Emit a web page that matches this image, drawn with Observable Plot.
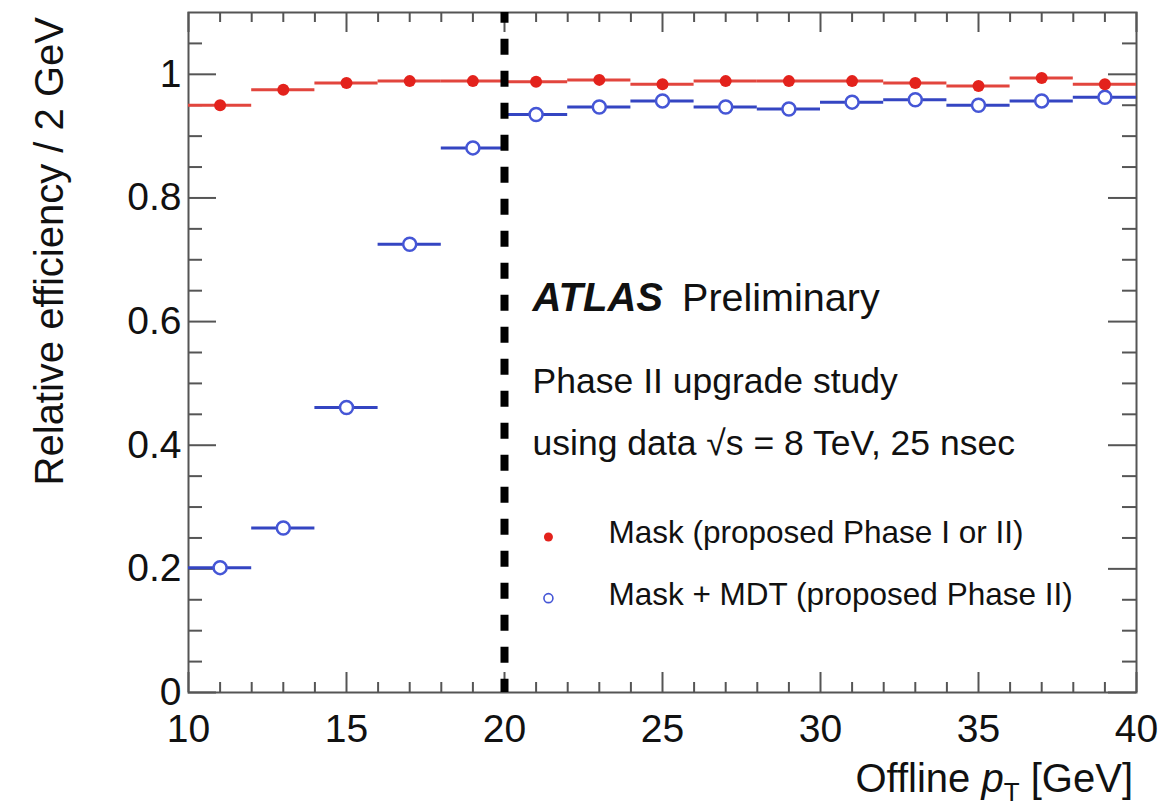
<!DOCTYPE html>
<html>
<head>
<meta charset="utf-8">
<script src="https://cdn.jsdelivr.net/npm/d3@7"></script>
<script src="https://cdn.jsdelivr.net/npm/@observablehq/plot@0.6"></script>
<style>
  html, body { margin: 0; padding: 0; background: #ffffff; }
  #chart { position: relative; width: 1176px; height: 808px; }
</style>
</head>
<body>
<div id="chart"></div>
<script>
// ---------------- data ----------------
const ptBinCentres = [11, 13, 15, 17, 19, 21, 23, 25, 27, 29, 31, 33, 35, 37, 39];
const binHalfWidth = 1;
const maskEfficiency = [0.950, 0.975, 0.986, 0.989, 0.989, 0.988, 0.991, 0.984, 0.989, 0.989, 0.989, 0.986, 0.981, 0.994, 0.984];
const maskMdtEfficiency = [0.202, 0.266, 0.461, 0.725, 0.881, 0.935, 0.947, 0.957, 0.947, 0.944, 0.955, 0.959, 0.950, 0.957, 0.963];
const thresholdPt = [20];

const xMajorTicks = [10, 15, 20, 25, 30, 35, 40];
const xMinorTicks = [11, 12, 13, 14, 16, 17, 18, 19, 21, 22, 23, 24, 26, 27, 28, 29, 31, 32, 33, 34, 36, 37, 38, 39];
const yMajorTicks = [0, 0.2, 0.4, 0.6, 0.8, 1];
const yMinorTicks = [0.05, 0.1, 0.15, 0.25, 0.3, 0.35, 0.45, 0.5, 0.55, 0.65, 0.7, 0.75, 0.85, 0.9, 0.95, 1.05];

const seriesLabels = ["Mask (proposed Phase I or II)", "Mask + MDT (proposed Phase II)"];

// ---------------- table built from arrays ----------------
const maskRows = ptBinCentres.map((pt, i) => ({pt, eff: maskEfficiency[i]}));
const mdtRows = ptBinCentres.map((pt, i) => ({pt, eff: maskMdtEfficiency[i]}));

// ---------------- layout / style ----------------
const W = 1176, H = 808;
const mL = 188, mR = 40, mT = 12, mB = 116;
const plotW = W - mL - mR, plotH = H - mT - mB;
const axisColor = "#555555";
const font = "'Liberation Sans', Arial, Helvetica, sans-serif";
const red = "#e3221c", redLine = "#e2453d";
const blueLine = "#3445c2", blueMarker = "#4556d6";

const chart = Plot.plot({
  width: W, height: H,
  marginLeft: mL, marginRight: mR, marginTop: mT, marginBottom: mB,
  style: {fontFamily: font, background: "#ffffff", color: "#111111"},
  x: {domain: [10, 40]},
  y: {domain: [0, 1.1]},
  marks: [
    // ticks (inward, on all four sides)
    Plot.tickX(xMajorTicks, {x: d => d, insetTop: plotH - 20, stroke: axisColor, strokeWidth: 2}),
    Plot.tickX(xMinorTicks, {x: d => d, insetTop: plotH - 10, stroke: axisColor, strokeWidth: 2}),
    Plot.tickX(xMajorTicks, {x: d => d, insetBottom: plotH - 20, stroke: axisColor, strokeWidth: 2}),
    Plot.tickX(xMinorTicks, {x: d => d, insetBottom: plotH - 10, stroke: axisColor, strokeWidth: 2}),
    Plot.tickY(yMajorTicks, {y: d => d, insetRight: plotW - 28, stroke: axisColor, strokeWidth: 2}),
    Plot.tickY(yMinorTicks, {y: d => d, insetRight: plotW - 14, stroke: axisColor, strokeWidth: 2}),
    Plot.tickY(yMajorTicks, {y: d => d, insetLeft: plotW - 28, stroke: axisColor, strokeWidth: 2}),
    Plot.tickY(yMinorTicks, {y: d => d, insetLeft: plotW - 14, stroke: axisColor, strokeWidth: 2}),
    Plot.frame({stroke: axisColor, strokeWidth: 2}),
    // tick labels
    Plot.axisX(xMajorTicks, {tickSize: 0, tickPadding: 22, fontSize: 39, label: null, fill: "#111111", tickFormat: d => String(d)}),
    Plot.axisY(yMajorTicks, {tickSize: 0, tickPadding: 7, fontSize: 39, label: null, fill: "#111111", tickFormat: d => String(d)}),
    // bin-width bars
    Plot.ruleY(maskRows, {x1: d => d.pt - binHalfWidth, x2: d => d.pt + binHalfWidth, y: "eff", stroke: redLine, strokeWidth: 3}),
    Plot.ruleY(mdtRows, {x1: d => d.pt - binHalfWidth, x2: d => d.pt + binHalfWidth, y: "eff", stroke: blueLine, strokeWidth: 3}),
    // markers
    Plot.dot(mdtRows, {x: "pt", y: "eff", r: 6.5, fill: "#ffffff", stroke: blueMarker, strokeWidth: 2.5}),
    Plot.dot(maskRows, {x: "pt", y: "eff", r: 6, fill: red, stroke: "none"}),
    // threshold line
    Plot.ruleX(thresholdPt, {x: d => d, stroke: "#000000", strokeWidth: 8, strokeDasharray: "16,16", strokeDashoffset: 5.3}),
    // annotations
    Plot.text([{x: 20.89, y: 0.617, t: "ATLAS"}], {x: "x", y: "y", text: "t", textAnchor: "start", lineAnchor: "bottom", fontSize: 40, fontWeight: "bold", fontStyle: "italic", fill: "#111111"}),
    Plot.text([{x: 25.62, y: 0.617, t: "Preliminary"}], {x: "x", y: "y", text: "t", textAnchor: "start", lineAnchor: "bottom", fontSize: 39.5, fill: "#111111"}),
    Plot.text([{x: 20.89, y: 0.484, t: "Phase II upgrade study"}], {x: "x", y: "y", text: "t", textAnchor: "start", lineAnchor: "bottom", fontSize: 35.5, fill: "#111111"}),
    Plot.text([{x: 20.89, y: 0.385, t: "using data \u221As = 8 TeV, 25 nsec"}], {x: "x", y: "y", text: "t", textAnchor: "start", lineAnchor: "bottom", fontSize: 35.5, fill: "#111111"}),
    // legend
    Plot.dot([{x: 21.39, y: 0.2516}], {x: "x", y: "y", r: 4.5, fill: red}),
    Plot.dot([{x: 21.39, y: 0.1526}], {x: "x", y: "y", r: 4.5, fill: "#ffffff", stroke: blueMarker, strokeWidth: 1.6}),
    Plot.text([{x: 23.29, y: 0.2419, t: seriesLabels[0]}], {x: "x", y: "y", text: "t", textAnchor: "start", lineAnchor: "bottom", fontSize: 31.5, fill: "#111111"}),
    Plot.text([{x: 23.29, y: 0.1412, t: seriesLabels[1]}], {x: "x", y: "y", text: "t", textAnchor: "start", lineAnchor: "bottom", fontSize: 31.5, fill: "#111111"})
  ]
});

document.getElementById("chart").appendChild(chart);

// axis titles (need mixed styles)
const svg = d3.select(chart);
svg.append("text")
  .attr("transform", `translate(63,${mT + 5}) rotate(-90)`)
  .attr("text-anchor", "end")
  .attr("fill", "#111111")
  .style("font-family", font)
  .style("font-size", "40px")
  .text("Relative efficiency / 2 GeV");

const xt = svg.append("text")
  .attr("x", W - mR - 3)
  .attr("y", 792)
  .attr("text-anchor", "end")
  .attr("fill", "#111111")
  .style("font-family", font)
  .style("font-size", "40px");
xt.append("tspan").text("Offline ");
xt.append("tspan").attr("font-style", "italic").text("p");
xt.append("tspan").attr("dy", 9).style("font-size", "26px").text("T");
xt.append("tspan").attr("dy", -9).text(" [GeV]");
</script>
</body>
</html>
